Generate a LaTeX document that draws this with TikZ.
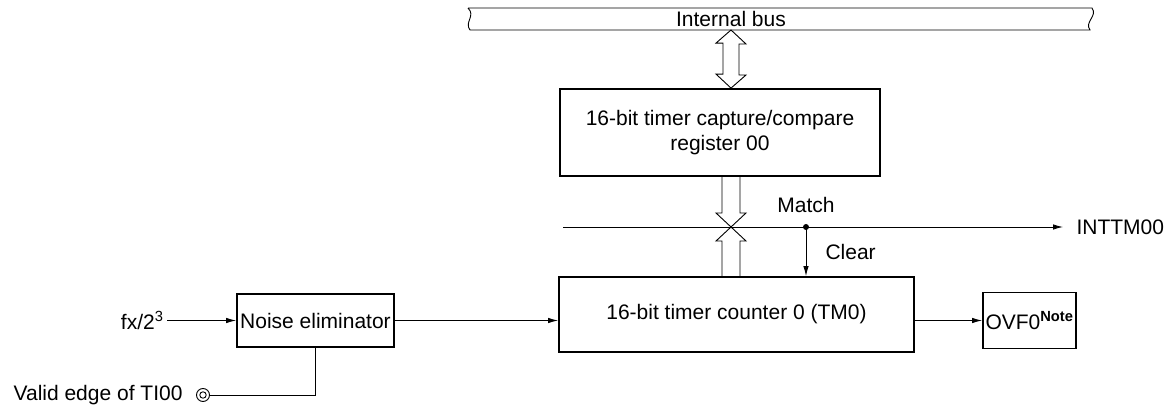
\documentclass[tikz,border=0pt]{standalone}
\usepackage{fontspec}
\setmainfont{Liberation Sans}
\usepackage{tikz}
\usetikzlibrary{arrows.meta,positioning,calc}

\begin{document}
\begin{tikzpicture}[
  x=1pt,y=-1pt,
  font=\fontsize{21}{25}\selectfont,
  blk/.style={rectangle,draw,line width=1.8pt,align=center,inner sep=0pt},
  arr/.style={-{Latex[length=10pt,width=5.5pt]},line width=0.9pt},
  wire/.style={line width=0.9pt}
]
\useasboundingbox (0,0) rectangle (1171,409);

% internal bus
\draw[wire] (468,8) -- (1092,8) .. controls (1098,16) and (1084,22) .. (1090,30)
  -- (470,30) .. controls (464,22) and (476,16) .. (468,8);
\node (bus) at (731,19) {Internal bus};
\coordinate (bb) at (731,30);

\node[blk,minimum width=320pt,minimum height=87pt] (reg) at (720,132.5) {16-bit timer capture/compare\\register 00};
\node[blk,minimum width=355pt,minimum height=75pt] (tm) at (736.5,314.5) {16-bit timer counter 0 (TM0)};
\node[blk,minimum width=157pt,minimum height=53pt] (nel) at (315.5,320.5) {Noise eliminator};
\node[blk,minimum width=93pt,minimum height=56pt] (ovf) at (1029.5,320.5) {OVF0\textsuperscript{\textbf{Note}}};

% bus <-> register
\draw[wire] (bb) -- ++(15,14) -- ++(-7,0) -- ++(0,31) -- ++(7,0) -- (bb |- reg.north)
  -- ++(-15,-14) -- ++(7,0) -- ++(0,-31) -- ++(-7,0) -- cycle;

% compare
\coordinate (mx) at (731,227);
\draw[wire] (mx) -- ++(-15,-14) -- ++(6,0) -- ++(0,-37);
\draw[wire] (mx) -- ++(15,-14) -- ++(-6,0) -- ++(0,-37);
\draw[wire] (mx) -- ++(-15,14) -- ++(6,0) -- ++(0,36);
\draw[wire] (mx) -- ++(15,14) -- ++(-6,0) -- ++(0,36);

% match line
\coordinate (ml) at (563,227);
\node[anchor=west] (int) at (1073,227) {INTTM00};
\draw[arr,shorten >=10pt] (ml) -- (int.west);
\node[circle,fill,inner sep=0pt,minimum size=6pt] (dot) at (806,227) {};
\node[above=8pt of dot] (mlbl) {Match};
\draw[arr] (dot.center) -- (dot |- tm.north);
\node[anchor=west] (clr) at (822,252) {Clear};

% inputs
\node[anchor=east] (fx) at (167,320.5) {fx/2\textsuperscript{3}};
\draw[arr] (fx.east) -- (nel.west);
\draw[arr] (nel.east) -- (nel -| tm.west);
\draw[arr] (tm.east |- ovf) -- (ovf.west);

\node[circle,draw,wire,minimum size=13pt,inner sep=0pt] (ti) at (203,395) {};
\draw[wire] (ti.center) circle (3.2pt);
\node[left=10pt of ti] (tilbl) {Valid edge of TI00};
\draw[wire] (ti.east) -| (nel.south);
\end{tikzpicture}
\end{document}
